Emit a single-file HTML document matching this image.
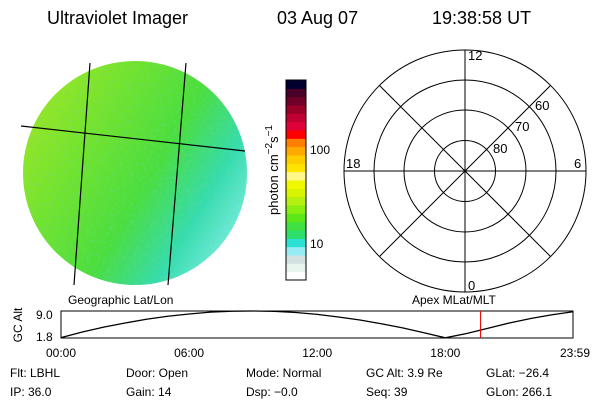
<!DOCTYPE html>
<html><head><meta charset="utf-8"><style>
body{margin:0;background:#fff;width:600px;height:400px;overflow:hidden;font-family:"Liberation Sans",sans-serif}
svg{display:block}
text{font-family:"Liberation Sans",sans-serif;fill:#000}
</style></head><body>
<svg id="c" width="600" height="400" viewBox="0 0 600 400">
<defs>
<linearGradient id="dg" x1="0" y1="0.1" x2="1" y2="0.7">
<stop offset="0" stop-color="#a8e820"/><stop offset="0.3" stop-color="#78e42a"/>
<stop offset="0.6" stop-color="#4ade3c"/><stop offset="0.82" stop-color="#34dcb0"/><stop offset="1" stop-color="#7eeee4"/>
</linearGradient>
<filter id="nz"><feTurbulence type="fractalNoise" baseFrequency="0.3" numOctaves="2" seed="3"/>
<feColorMatrix values="0 0 0 0 0.15 0 0 0 0 0.7 0 0 0 0 0.3 1.8 0 0 0 -0.8"/></filter>
<clipPath id="dc"><circle cx="135" cy="173" r="112"/></clipPath>
</defs>
<text x="47" y="24" font-size="18">Ultraviolet Imager</text>
<text x="277" y="24" font-size="18">03 Aug 07</text>
<text x="432" y="24" font-size="18">19:38:58 UT</text>

<g clip-path="url(#dc)">
<rect x="20" y="58" width="230" height="232" fill="url(#dg)"/>
<rect x="20" y="58" width="230" height="232" filter="url(#nz)" opacity="0.5"/>
</g>
<g stroke="#000" stroke-width="1.2" fill="none">
<line x1="21" y1="126" x2="245" y2="151"/>
<line x1="90" y1="63" x2="74" y2="285"/>
<line x1="186" y1="63" x2="168" y2="285"/>
</g>
<text x="68" y="304" font-size="12">Geographic Lat/Lon</text>

<g id="cbar"></g>
<text transform="translate(278,170) rotate(-90)" text-anchor="middle" font-size="13">photon cm<tspan dy="-6" font-size="10">−2</tspan><tspan dy="6">s</tspan><tspan dy="-6" font-size="10">−1</tspan></text>
<text x="310" y="154" font-size="12">100</text>
<text x="310" y="248" font-size="12">10</text>

<g stroke="#000" stroke-width="1" fill="none">
<circle cx="465" cy="171" r="121"/><circle cx="465" cy="171" r="91"/>
<circle cx="465" cy="171" r="61"/><circle cx="465" cy="171" r="30.5"/>
<line x1="344" y1="171" x2="586" y2="171"/><line x1="465" y1="50" x2="465" y2="292"/>
<line x1="379.4" y1="85.4" x2="550.6" y2="256.6"/><line x1="550.6" y1="85.4" x2="379.4" y2="256.6"/>
</g>
<g font-size="13">
<text x="468" y="60">12</text><text x="468" y="290">0</text>
<text x="346" y="168">18</text><text x="574" y="168">6</text>
<text x="535" y="110">60</text><text x="515" y="131">70</text><text x="493" y="153">80</text>
</g>
<text x="412" y="304" font-size="12">Apex  MLat/MLT</text>

<rect x="61" y="311" width="512" height="27" fill="none" stroke="#000"/>
<text transform="translate(22,325) rotate(-90)" text-anchor="middle" font-size="12">GC Alt</text>
<text x="36" y="319" font-size="12">9.0</text>
<text x="36" y="341" font-size="12">1.8</text>
<g id="alt"></g>
<g id="xt" font-size="12"></g>
<g font-size="12">
<text x="10" y="377">Flt: LBHL</text><text x="10" y="396">IP: 36.0</text>
<text x="126" y="377">Door: Open</text><text x="126" y="396">Gain: 14</text>
<text x="246" y="377">Mode: Normal</text><text x="246" y="396">Dsp:    −0.0</text>
<text x="366" y="377">GC Alt: 3.9 Re</text><text x="366" y="396">Seq: 39</text>
<text x="486" y="377">GLat: −26.4</text><text x="486" y="396">GLon: 266.1</text>
</g>
</svg>
<script>
const cbarColors=["#fff","#e8f4ee","#d2e2e0","#96ecf4","#2ce0d4","#2ede6a","#40e040","#5ce818","#88ee10","#b4f010","#d8f400","#f0f800","#fff888","#ffe400","#ffcc00","#ffaa00","#ff8000","#ff0000","#e0003a","#c00030","#980028","#700028","#480028","#000030"];
const altHours=[0,1,2,3,4,5,6,7,8,9,10,11,12,13,14,15,16,17,18,19,20,21,22,23,23.98];
const altValues=[1.9,3.4,4.7,5.8,6.8,7.6,8.2,8.7,8.95,9.0,8.9,8.6,8.1,7.4,6.6,5.6,4.5,3.2,1.85,3.0,4.4,5.8,7.0,8.0,8.8];
const nowHour=19.65;
const tickLabels=["00:00","06:00","12:00","18:00","23:59"];
const tickHours=[0,6,12,18,23.98];
const NS="http://www.w3.org/2000/svg";
const cb=document.getElementById('cbar');
const bh=200/cbarColors.length;
cbarColors.forEach((c,i)=>{const r=document.createElementNS(NS,'rect');


r.setAttribute('x',286);r.setAttribute('y',280-(i+1)*bh);r.setAttribute('width',20);r.setAttribute('height',bh+0.5);r.setAttribute('fill',c);cb.appendChild(r);});
const fr=document.createElementNS(NS,'rect');


fr.setAttribute('x',286);fr.setAttribute('y',80);fr.setAttribute('width',20);fr.setAttribute('height',200);fr.setAttribute('fill','none');fr.setAttribute('stroke','#000');cb.appendChild(fr);
const xs=h=>61+h/23.98*512, ys=v=>338-(v-1.8)/(9.0-1.8)*27;
const g=document.getElementById('alt');
const p=document.createElementNS(NS,'polyline');


p.setAttribute('points',altHours.map((h,i)=>xs(h)+','+ys(altValues[i])).join(' '));
p.setAttribute('fill','none');p.setAttribute('stroke','#000');p.setAttribute('stroke-width','1.3');g.appendChild(p);
const rl=document.createElementNS(NS,'line');


rl.setAttribute('x1',xs(nowHour));rl.setAttribute('x2',xs(nowHour));rl.setAttribute('y1',311);rl.setAttribute('y2',338);rl.setAttribute('stroke','#e00');g.appendChild(rl);
const xt=document.getElementById('xt');
tickLabels.forEach((t,i)=>{const e=document.createElementNS(NS,'text');


e.setAttribute('x',i==4?590:xs(tickHours[i]));e.setAttribute('y',357);e.setAttribute('text-anchor',i==4?'end':'middle');
e.textContent=t;xt.appendChild(e);});
</script>
</body></html>
